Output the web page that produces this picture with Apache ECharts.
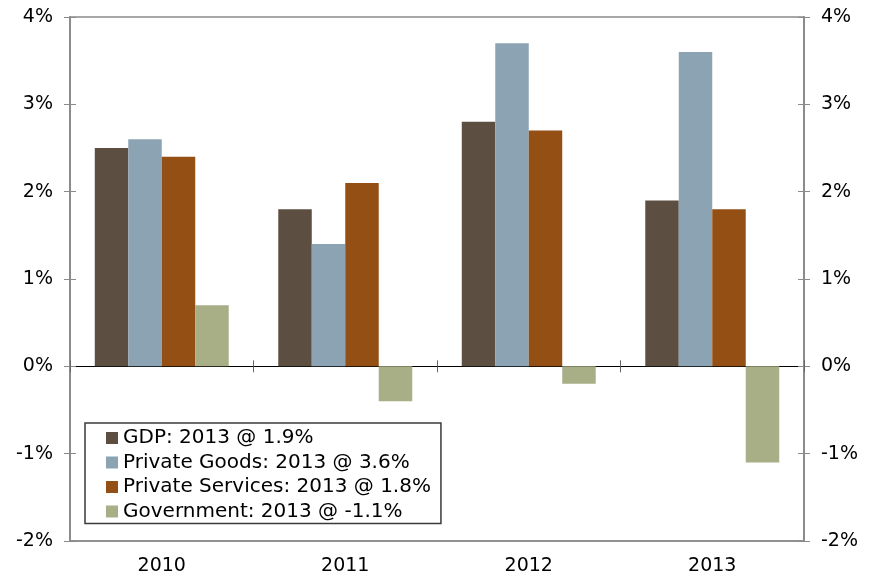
<!DOCTYPE html>
<html>
<head>
<meta charset="utf-8">
<script src="https://cdn.jsdelivr.net/npm/echarts@6/dist/echarts.min.js"></script>
<style>
  html, body { margin: 0; padding: 0; background: #fff; }
  #chart { width: 874px; height: 578px; }
</style>
</head>
<body>
<div id="chart"></div>
<script>
// Annual growth by component, percent
const years = ['2010', '2011', '2012', '2013'];
const gdp = [2.5, 1.8, 2.8, 1.9];
const privateGoods = [2.6, 1.4, 3.7, 3.6];
const privateServices = [2.4, 2.1, 2.7, 1.8];
const government = [0.7, -0.4, -0.2, -1.1];
const seriesNames = [
  'GDP: 2013 @ 1.9%',
  'Private Goods: 2013 @ 3.6%',
  'Private Services: 2013 @ 1.8%',
  'Government: 2013 @ -1.1%'
];
const colors = ['#5C4F42', '#8BA3B3', '#934F14', '#A8AE86'];

const FONT = '"DejaVu Sans", Verdana, sans-serif';
const AXIS_GRAY = '#8a8a8a';

const chart = echarts.init(document.getElementById('chart'), null, { renderer: 'canvas' });

const yBase = {
  type: 'value', min: -2, max: 4, interval: 1,
  splitLine: { show: false },
  axisLine: { show: true, lineStyle: { color: AXIS_GRAY, width: 1.5 } }
};
const yLabel = {
  show: true, formatter: '{value}%', color: '#000',
  fontFamily: FONT, fontSize: 19, margin: 17
};

chart.setOption({
  animation: false,
  grid: {
    left: 70, right: 70, top: 17, bottom: 37,
    show: true, borderColor: AXIS_GRAY, borderWidth: 1.5, backgroundColor: '#fff'
  },
  legend: {
    data: seriesNames,
    orient: 'vertical',
    left: 85, top: 423,
    padding: [5, 10, 2, 21],
    itemWidth: 12, itemHeight: 12, itemGap: 4.5,
    icon: 'rect',
    borderColor: '#3a3a3a', borderWidth: 1.5,
    backgroundColor: '#fff',
    textStyle: { fontFamily: FONT, fontSize: 20, lineHeight: 19, color: '#000' }
  },
  xAxis: [
    {
      type: 'category', data: years, position: 'bottom',
      axisLine: { show: true, onZero: false, lineStyle: { color: AXIS_GRAY, width: 1.5 } },
      axisTick: { show: false },
      axisLabel: { color: '#000', fontFamily: FONT, fontSize: 19, margin: 16 }
    },
    {
      type: 'category', data: years, position: 'bottom', gridIndex: 0,
      axisLine: { show: true, onZero: true, onZeroAxisIndex: 0, lineStyle: { color: '#000', width: 1 } },
      axisTick: { show: true, inside: false, length: 6, lineStyle: { color: '#666' } },
      axisLabel: { show: false }
    },
    {
      type: 'category', data: years, position: 'bottom', gridIndex: 0,
      axisLine: { show: false, onZero: true, onZeroAxisIndex: 0 },
      axisTick: { show: true, inside: true, length: 6, lineStyle: { color: '#666' } },
      axisLabel: { show: false }
    }
  ],
  yAxis: [
    Object.assign({}, yBase, { position: 'left',
      axisTick: { show: true, inside: false, length: 6, lineStyle: { color: AXIS_GRAY } },
      axisLabel: yLabel }),
    Object.assign({}, yBase, { position: 'right',
      axisTick: { show: true, inside: false, length: 6, lineStyle: { color: AXIS_GRAY } },
      axisLabel: yLabel }),
    Object.assign({}, yBase, { position: 'left',
      axisTick: { show: true, inside: true, length: 6, lineStyle: { color: AXIS_GRAY } },
      axisLabel: { show: false } }),
    Object.assign({}, yBase, { position: 'right',
      axisTick: { show: true, inside: true, length: 6, lineStyle: { color: AXIS_GRAY } },
      axisLabel: { show: false } })
  ],
  series: [gdp, privateGoods, privateServices, government].map((values, i) => ({
    name: seriesNames[i],
    type: 'bar',
    xAxisIndex: 0,
    yAxisIndex: 0,
    data: values,
    barGap: '0%',
    barCategoryGap: '27%',
    itemStyle: { color: colors[i] },
    z: 1
  }))
});
</script>
</body>
</html>
